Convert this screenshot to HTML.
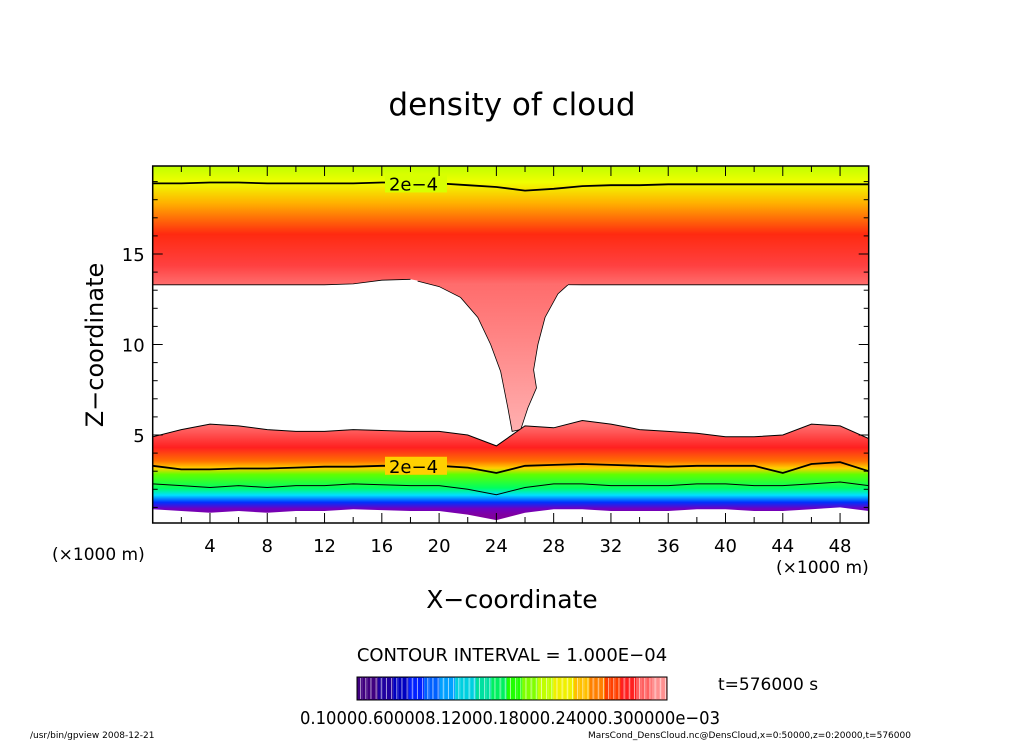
<!DOCTYPE html>
<html><head><meta charset="utf-8"><style>
body{margin:0;background:#fff;width:1024px;height:741px;overflow:hidden}
text{font-family:"DejaVu Sans","Liberation Sans",sans-serif;fill:#000}
</style></head><body>
<svg id="chart" width="1024" height="741" xmlns="http://www.w3.org/2000/svg">
<defs>
<linearGradient id="gUp" gradientUnits="userSpaceOnUse" x1="0" y1="166" x2="0" y2="290">
<stop offset="0" stop-color="#c0ff00"/><stop offset="0.13" stop-color="#f0ff00"/><stop offset="0.3" stop-color="#ffb000"/><stop offset="0.55" stop-color="#ff2a10"/><stop offset="0.8" stop-color="#ff4040"/><stop offset="1" stop-color="#ff7a7a"/></linearGradient>
<linearGradient id="gFun" gradientUnits="userSpaceOnUse" x1="0" y1="280" x2="0" y2="432">
<stop offset="0" stop-color="#ff6a6a"/><stop offset="1" stop-color="#ffb0b0"/></linearGradient>
<linearGradient id="gLow" gradientUnits="userSpaceOnUse" x1="0" y1="425" x2="0" y2="515">
<stop offset="0" stop-color="#ff7070"/><stop offset="0.25" stop-color="#ff2020"/><stop offset="0.4" stop-color="#ff7000"/><stop offset="0.48" stop-color="#ffd000"/><stop offset="0.55" stop-color="#60ff00"/><stop offset="0.7" stop-color="#00ff60"/><stop offset="0.78" stop-color="#00e0ff"/><stop offset="0.86" stop-color="#0030ff"/><stop offset="0.93" stop-color="#7000c0"/><stop offset="1" stop-color="#8000a0"/></linearGradient>
</defs>
<g id="plot"></g>
<text x="512" y="115" font-size="31" text-anchor="middle">density of cloud</text>
<text transform="translate(103,345) rotate(-90)" font-size="24" text-anchor="middle">Z−coordinate</text>
<text x="512" y="608" font-size="25" text-anchor="middle">X−coordinate</text>
<text x="52" y="560" font-size="17">(×1000 m)</text>
<text x="776" y="573" font-size="17">(×1000 m)</text>
<text x="512" y="661" font-size="18" text-anchor="middle">CONTOUR INTERVAL = 1.000E−04</text>
<text x="718" y="690" font-size="17">t=576000 s</text>
<g id="cbar"></g>
<text x="300" y="724" font-size="18" textLength="420" lengthAdjust="spacingAndGlyphs">0.10000.600008.12000.18000.24000.300000e−03</text>
<text x="30" y="738" font-size="9">/usr/bin/gpview   2008-12-21</text>
<text x="588" y="738" font-size="9">MarsCond_DensCloud.nc@DensCloud,x=0:50000,z=0:20000,t=576000</text>
</svg>
<script>
const xs=[0,2,4,6,8,10,12,14,16,18,20,22,24,26,28,30,32,34,36,38,40,42,44,46,48,50];
const upperContour=[18.9,18.9,18.95,18.95,18.9,18.9,18.9,18.9,18.95,18.95,18.9,18.8,18.7,18.5,18.6,18.75,18.8,18.8,18.85,18.85,18.85,18.85,18.85,18.85,18.85,18.85];
const upperEdge=[13.3,13.3,13.3,13.3,13.3,13.3,13.3,13.35,13.55,13.6,13.3,13.3,13.3,13.3,13.3,13.3,13.3,13.3,13.3,13.3,13.3,13.3,13.3,13.3,13.3,13.3];
const lowerTop=[4.9,5.3,5.6,5.5,5.3,5.2,5.2,5.3,5.25,5.2,5.2,5.0,4.4,5.5,5.4,5.8,5.6,5.3,5.2,5.1,4.9,4.9,5.0,5.6,5.5,4.8];
const lowerContour=[3.3,3.1,3.1,3.15,3.15,3.2,3.25,3.25,3.3,3.3,3.3,3.2,2.9,3.3,3.35,3.4,3.35,3.3,3.25,3.3,3.3,3.3,2.9,3.4,3.5,3.0];
const lowerBottom=[0.9,0.8,0.7,0.8,0.7,0.8,0.8,0.9,0.85,0.8,0.8,0.6,0.3,0.7,0.9,0.9,0.8,0.8,0.8,0.9,0.9,0.8,0.8,0.9,1.0,0.8];
const funnelLeftX=[18.5,20,21.5,22.7,23.6,24.3,24.8,25.1];
const funnelLeftZ=[13.5,13.2,12.6,11.5,10.0,8.5,6.5,5.2];
const funnelRightX=[25.7,26.2,26.8,26.6,26.9,27.4,28.3,29.0];
const funnelRightZ=[5.3,6.5,7.6,8.6,10.0,11.5,12.8,13.3];
const xTicks=[4,8,12,16,20,24,28,32,36,40,44,48];
const zTicks=[5,10,15];
const cbarColors=["#400080","#2000a0","#0000c0","#0020ff","#0060ff","#00a0ff","#00d0e0","#00e0a0","#00f060","#20ff00","#80ff00","#c0ff00","#f0f000","#ffc000","#ff8000","#ff4000","#ff2020","#ff6060","#ff9090"];
const NS="http://www.w3.org/2000/svg";
const L=152.7,R=868.7,T=166,B=523;
const px=x=>L+x*(R-L)/50, pz=z=>525.5-z*18.1;
const plot=document.getElementById('plot');
function mk(tag,attrs){const e=document.createElementNS(NS,tag);for(const k in attrs)e.setAttribute(k,attrs[k]);return e;}
function line(arr){return xs.map((x,i)=>px(x).toFixed(1)+','+pz(arr[i]).toFixed(1));}
let fp=funnelLeftX.map((x,i)=>px(x)+','+pz(funnelLeftZ[i])).concat(funnelRightX.map((x,i)=>px(x)+','+pz(funnelRightZ[i])));
let funFill=mk('path',{d:'M'+fp.join(' L')+' L'+px(29)+','+pz(14.2)+' L'+px(18.5)+','+pz(14.2)+'Z',fill:'url(#gFun)'});


plot.appendChild(funFill);
let funEdge=mk('polyline',{points:fp.join(' '),fill:'none',stroke:'#000','stroke-width':0.8});


plot.appendChild(funEdge);
let up=mk('path',{d:'M'+L+','+T+' L'+R+','+T+' L'+line(upperEdge).reverse().join(' L')+'Z',fill:'url(#gUp)'});


plot.appendChild(up);
let e1=mk('polyline',{points:line(upperEdge).filter((p,i)=>xs[i]<=18).join(' '),fill:'none',stroke:'#000','stroke-width':0.8});


plot.appendChild(e1);
let e2=mk('polyline',{points:[px(29)+','+pz(13.3)].concat(line(upperEdge).filter((p,i)=>xs[i]>=30)).join(' '),fill:'none',stroke:'#000','stroke-width':0.8});


plot.appendChild(e2);
let low=mk('path',{d:'M'+line(lowerTop).join(' L')+' L'+line(lowerBottom).reverse().join(' L')+'Z',fill:'url(#gLow)'});


plot.appendChild(low);
let lt=mk('polyline',{points:line(lowerTop).join(' '),fill:'none',stroke:'#000','stroke-width':1});


plot.appendChild(lt);
let blueC=mk('polyline',{points:xs.map((x,i)=>px(x)+','+pz(lowerBottom[i]+1.4)).join(' '),fill:'none',stroke:'#000','stroke-width':1});


plot.appendChild(blueC);
[[upperContour,'upper-2e-4-contour',px(16.5),pz(18.9)],[lowerContour,'lower-2e-4-contour',px(16.5),pz(3.3)]].forEach(([arr,n,lx,ly])=>{
 let p=mk('polyline',{points:line(arr).join(' '),fill:'none',stroke:'#000','stroke-width':1.8});
 
 
 plot.appendChild(p);
 let r=mk('rect',{x:lx-4,y:ly-9,width:62,height:18,fill:n.startsWith('upper')?'#d8ff00':'#ffd000'});
 
 
 plot.appendChild(r);
 let t=mk('text',{x:lx,y:ly+7,'font-size':18});t.textContent='2e−4';
 
 
 plot.appendChild(t);
});
let fr=mk('rect',{x:L,y:T,width:R-L,height:B-T,fill:'none',stroke:'#000','stroke-width':1.5});


plot.appendChild(fr);
for(let x=2;x<50;x+=2){let m=xTicks.includes(x);
 let t=mk('line',{x1:px(x),x2:px(x),y1:B,y2:B-(m?10:6),stroke:'#000'});
 plot.appendChild(t);
 let t2=mk('line',{x1:px(x),x2:px(x),y1:T,y2:T+(m?10:6),stroke:'#000'});
 plot.appendChild(t2);}
xTicks.forEach(x=>{let t=mk('text',{x:px(x),y:B+29,'font-size':18,'text-anchor':'middle'});t.textContent=x;
 plot.appendChild(t);});
for(let z=1;z<20;z++){let m=zTicks.includes(z);
 let t=mk('line',{x1:L,x2:L+(m?10:5),y1:pz(z),y2:pz(z),stroke:'#000'});
 plot.appendChild(t);
 let t2=mk('line',{x1:R,x2:R-(m?10:5),y1:pz(z),y2:pz(z),stroke:'#000'});
 plot.appendChild(t2);}
zTicks.forEach(z=>{let t=mk('text',{x:L-8,y:pz(z)+7,'font-size':18,'text-anchor':'end'});t.textContent=z;
 plot.appendChild(t);});
const cb=document.getElementById('cbar');const cx0=357,cx1=667,n=60;
for(let i=0;i<n;i++){const c=cbarColors[Math.floor(i*cbarColors.length/n)];const w=(cx1-cx0)/n;
 let r=mk('rect',{x:cx0+i*w,y:677,width:w,height:23,fill:c});
 cb.appendChild(r);
 let l=mk('line',{x1:cx0+i*w+w*0.7,x2:cx0+i*w+w*0.7,y1:678,y2:699,stroke:'#fff','stroke-width':1,opacity:0.6});
 cb.appendChild(l);}
let cf=mk('rect',{x:cx0,y:677,width:cx1-cx0,height:23,fill:'none',stroke:'#000'});
cb.appendChild(cf);
</script>
</body></html>
